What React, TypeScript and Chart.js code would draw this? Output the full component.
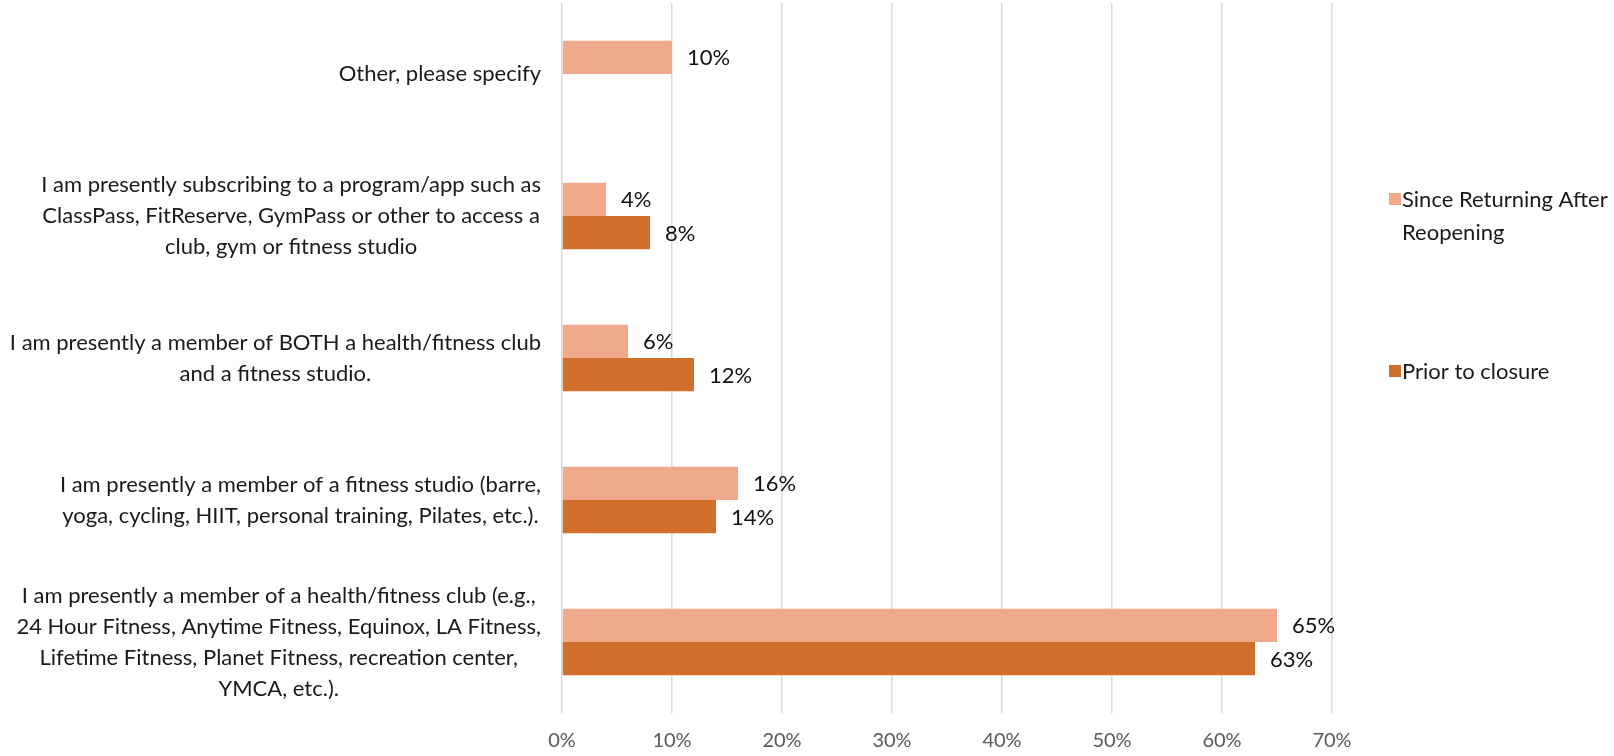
import React, { useEffect, useRef } from 'react';
import { Chart, registerables } from 'chart.js';

Chart.register(...registerables);

const categories: (string | string[])[] = [
  'Other, please specify',
  [
    'I am presently subscribing to a program/app such as',
    'ClassPass, FitReserve, GymPass or other to access a',
    'club, gym or fitness studio',
  ],
  ['I am presently a member of BOTH a health/fitness club', 'and a fitness studio.'],
  [
    'I am presently a member of a fitness studio (barre,',
    'yoga, cycling, HIIT, personal training, Pilates, etc.).',
  ],
  [
    'I am presently a member of a health/fitness club (e.g.,',
    '24 Hour Fitness, Anytime Fitness, Equinox, LA Fitness,',
    'Lifetime Fitness, Planet Fitness, recreation center,',
    'YMCA, etc.).',
  ],
];

const seriesNames = ['Since Returning After Reopening', 'Prior to closure'];
const sinceReturning: (number | null)[] = [10, 4, 6, 16, 65];
const priorToClosure: (number | null)[] = [null, 8, 12, 14, 63];
const seriesColors = ['#F0A98B', '#D26E2B'];
const axisMin = 0;
const axisMax = 70;
const axisStep = 10;

const FONT = 'Lato, "Open Sans", sans-serif';
const FS = 22;
const TICK_FS = 20;
const LH = 31;

const categoryLabelPlugin = {
  id: 'catLabels',
  afterDraw(chart: any) {
    const ctx = chart.ctx;
    const y = chart.scales.y;
    ctx.save();
    ctx.font = `${FS}px ${FONT}`;
    ctx.fillStyle = '#1a1a1a';
    ctx.textAlign = 'center';
    ctx.textBaseline = 'middle';
    const right = 541;
    (chart.data.labels as any[]).forEach((lab, i) => {
      const lines: string[] = Array.isArray(lab) ? lab : [lab];
      const maxW = Math.max(...lines.map((l) => ctx.measureText(l).width));
      const cx = right - maxW / 2;
      const cy = y.getPixelForTick(i);
      const n = lines.length;
      lines.forEach((l, j) => ctx.fillText(l, cx, cy + (j - (n - 1) / 2) * LH));
    });
    ctx.restore();
  },
};

const valueLabelPlugin = {
  id: 'valLabels',
  afterDatasetsDraw(chart: any) {
    const ctx = chart.ctx;
    ctx.save();
    ctx.font = `${FS}px ${FONT}`;
    ctx.fillStyle = '#111111';
    ctx.textAlign = 'left';
    ctx.textBaseline = 'middle';
    chart.data.datasets.forEach((ds: any, di: number) => {
      const meta = chart.getDatasetMeta(di);
      meta.data.forEach((el: any, i: number) => {
        const v = ds.data[i];
        if (v === null || v === undefined) return;
        ctx.fillText(`${v}%`, el.x + 15, el.y + 1);
      });
    });
    ctx.restore();
  },
};

const legendPlugin = {
  id: 'customLegend',
  afterDraw(chart: any) {
    const ctx = chart.ctx;
    ctx.save();
    ctx.font = `${FS}px ${FONT}`;
    ctx.textBaseline = 'middle';
    ctx.textAlign = 'left';
    const boxX = 1389;
    const textX = 1402;
    const maxW = 240;
    const itemY = [199, 371];
    chart.data.datasets.forEach((ds: any, di: number) => {
      const words = String(ds.label).split(' ');
      const lines: string[] = [];
      let cur = '';
      words.forEach((w) => {
        const test = cur ? cur + ' ' + w : w;
        if (ctx.measureText(test).width > maxW && cur) {
          lines.push(cur);
          cur = w;
        } else cur = test;
      });
      if (cur) lines.push(cur);
      const y0 = itemY[di];
      ctx.fillStyle = ds.backgroundColor;
      ctx.fillRect(boxX, y0 - 6, 12, 12);
      ctx.fillStyle = '#1a1a1a';
      lines.forEach((l, j) => ctx.fillText(l, textX, y0 + 1 + j * 33));
    });
    ctx.restore();
  },
};

export default function App() {
  const ref = useRef<HTMLCanvasElement | null>(null);
  useEffect(() => {
    if (!ref.current) return;
    const chart = new Chart(ref.current, {
      type: 'bar',
      data: {
        labels: categories as any,
        datasets: [
          {
            label: seriesNames[0],
            data: sinceReturning,
            backgroundColor: seriesColors[0],
            categoryPercentage: 0.47,
            barPercentage: 1.0,
          },
          {
            label: seriesNames[1],
            data: priorToClosure,
            backgroundColor: seriesColors[1],
            categoryPercentage: 0.47,
            barPercentage: 1.0,
          },
        ],
      },
      options: {
        indexAxis: 'y',
        animation: false,
        responsive: false,
        layout: { padding: { top: 3, right: 282, left: 0, bottom: 0 } },
        plugins: {
          legend: { display: false },
          tooltip: { enabled: false },
        },
        scales: {
          x: {
            min: axisMin,
            max: axisMax,
            grid: { color: '#D9D9D9', lineWidth: 1.5, drawTicks: false },
            border: { display: false },
            ticks: {
              stepSize: axisStep,
              padding: 16,
              color: '#595959',
              font: { family: FONT, size: TICK_FS },
              callback: (v: any) => `${v}%`,
            },
            afterFit: (s: any) => {
              s.height = 43;
            },
          },
          y: {
            grid: { display: false },
            border: { display: false },
            ticks: { display: false },
            afterFit: (s: any) => {
              s.width = 562;
            },
          },
        },
      },
      plugins: [categoryLabelPlugin, valueLabelPlugin, legendPlugin],
    });
    return () => chart.destroy();
  }, []);
  return (
    <div style={{ position: 'absolute', left: 0, top: 0, width: 1614, height: 756, background: '#fff' }}>
      <canvas ref={ref} width={1614} height={756} />
    </div>
  );
}
